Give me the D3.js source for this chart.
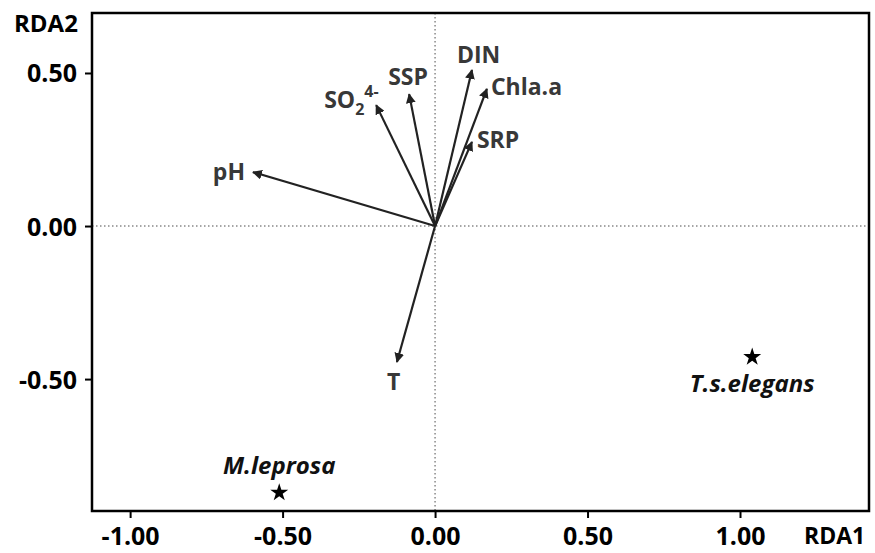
<!DOCTYPE html>
<html>
<head>
<meta charset="utf-8">
<script src="https://cdn.jsdelivr.net/npm/d3@7"></script>
<style>
  body { margin: 0; background: #fff; }
  text { font-family: "Open Sans", sans-serif; font-weight: bold; }
</style>
</head>
<body>
<div class="chart"></div>
<script>
var svgWidth = 875;
var svgHeight = 553;

// environmental vectors (RDA1, RDA2 of arrow tip)
var envNames = ["pH", "SO2", "SSP", "DIN", "Chla.a", "SRP", "T"];
var envX = [-0.597, -0.193, -0.085, 0.121, 0.170, 0.121, -0.125];
var envY = [0.176, 0.395, 0.431, 0.510, 0.448, 0.275, -0.444];

// species scores
var spNames = ["M.leprosa", "T.s.elegans"];
var spX = [-0.511, 1.040];
var spY = [-0.871, -0.428];

var xTicks = [-1.0, -0.5, 0.0, 0.5, 1.0];
var yTicks = [-0.5, 0.0, 0.5];

var margin = { top: 13, right: 6, bottom: 42, left: 92 };
var width = svgWidth - margin.left - margin.right;
var height = svgHeight - margin.top - margin.bottom;

var svg = d3.select(".chart")
  .append("svg")
  .attr("width", svgWidth)
  .attr("height", svgHeight);

var chartGroup = svg.append("g")
  .attr("transform", `translate(${margin.left}, ${margin.top})`);

var xScale = d3.scaleLinear().domain([-1.125, 1.423]).range([0, width]);
var yScale = d3.scaleLinear().domain([-0.931, 0.696]).range([height, 0]);

var fmt = d3.format(".2f");
function tickFmt(d) { return fmt(d).replace("−", "-"); }

// axes
var xAxis = chartGroup.append("g")
  .attr("transform", `translate(0, ${height})`)
  .call(d3.axisBottom(xScale).tickValues(xTicks).tickSize(7).tickPadding(9).tickFormat(tickFmt));
var yAxis = chartGroup.append("g")
  .call(d3.axisLeft(yScale).tickValues(yTicks).tickSize(7).tickPadding(8).tickFormat(tickFmt));

[xAxis, yAxis].forEach(function(a) {
  a.select(".domain").remove();
  a.selectAll("line").attr("stroke", "#000").attr("stroke-width", 2);
  a.selectAll("text")
    .attr("fill", "#000")
    .style("font-size", "25px")
    .style("font-family", "'Open Sans', sans-serif")
    .style("font-weight", "bold");
});
yAxis.selectAll("text").attr("dy", "0.36em");

// dotted zero lines
chartGroup.append("line")
  .attr("x1", 0).attr("x2", width)
  .attr("y1", yScale(0)).attr("y2", yScale(0))
  .attr("stroke", "#888").attr("stroke-width", 1.5)
  .attr("stroke-dasharray", "1.5,2.5");
chartGroup.append("line")
  .attr("x1", xScale(0)).attr("x2", xScale(0))
  .attr("y1", 0).attr("y2", height)
  .attr("stroke", "#888").attr("stroke-width", 1.5)
  .attr("stroke-dasharray", "1.5,2.5");

// frame
chartGroup.append("rect")
  .attr("width", width).attr("height", height)
  .attr("fill", "none").attr("stroke", "#000").attr("stroke-width", 2.5);

// arrowhead
svg.append("defs").append("marker")
  .attr("id", "head")
  .attr("viewBox", "0 0 10 10")
  .attr("refX", 9).attr("refY", 5)
  .attr("markerWidth", 4.5).attr("markerHeight", 4.5)
  .attr("orient", "auto")
  .append("path")
  .attr("d", "M0,0 L10,5 L0,10 Z")
  .attr("fill", "#222");

chartGroup.selectAll(".env")
  .data(envNames)
  .enter()
  .append("line")
  .attr("class", "env")
  .attr("x1", xScale(0)).attr("y1", yScale(0))
  .attr("x2", (d, i) => xScale(envX[i]))
  .attr("y2", (d, i) => yScale(envY[i]))
  .attr("stroke", "#222").attr("stroke-width", 2.2)
  .attr("marker-end", "url(#head)");

// labels for arrows: offsets from tip
var labelOff = {
  "pH": [-8, 8, "end"],
  "SO2": [-52, 3, "start"],
  "SSP": [-21, -9, "start"],
  "DIN": [-15, -7, "start"],
  "Chla.a": [4, 6, "start"],
  "SRP": [5, 6, "start"],
  "T": [-10, 28, "start"]
};

envNames.forEach(function(name, i) {
  var o = labelOff[name];
  var t = chartGroup.append("text")
    .attr("x", xScale(envX[i]) + o[0])
    .attr("y", yScale(envY[i]) + o[1])
    .attr("text-anchor", o[2])
    .attr("fill", "#383838")
    .style("font-size", "23px");
  if (name === "SO2") {
    t.append("tspan").text("SO");
    t.append("tspan").attr("dy", 7).style("font-size", "16px").text("2");
    t.append("tspan").attr("dy", -18).style("font-size", "16px").text("4-");
  } else {
    t.text(name);
  }
});

// species stars
var star = d3.symbol().type(d3.symbolStar).size(100);
chartGroup.selectAll(".sp")
  .data(spNames)
  .enter()
  .append("path")
  .attr("class", "sp")
  .attr("d", star)
  .attr("transform", (d, i) => `translate(${xScale(spX[i])}, ${yScale(spY[i])})`)
  .attr("fill", "#000");

chartGroup.selectAll(".spLabel")
  .data(spNames)
  .enter()
  .append("text")
  .attr("class", "spLabel")
  .attr("x", (d, i) => xScale(spX[i]))
  .attr("y", (d, i) => yScale(spY[i]) + (i === 0 ? -19 : 35))
  .attr("text-anchor", "middle")
  .attr("fill", "#111")
  .style("font-size", "24px")
  .style("font-style", "italic")
  .text(d => d);

// axis titles
svg.append("text")
  .attr("x", 14).attr("y", 32)
  .attr("fill", "#000")
  .style("font-size", "24px")
  .text("RDA2");
svg.append("text")
  .attr("x", 804).attr("y", 544)
  .attr("fill", "#000")
  .style("font-size", "23px")
  .text("RDA1");
</script>
</body>
</html>
